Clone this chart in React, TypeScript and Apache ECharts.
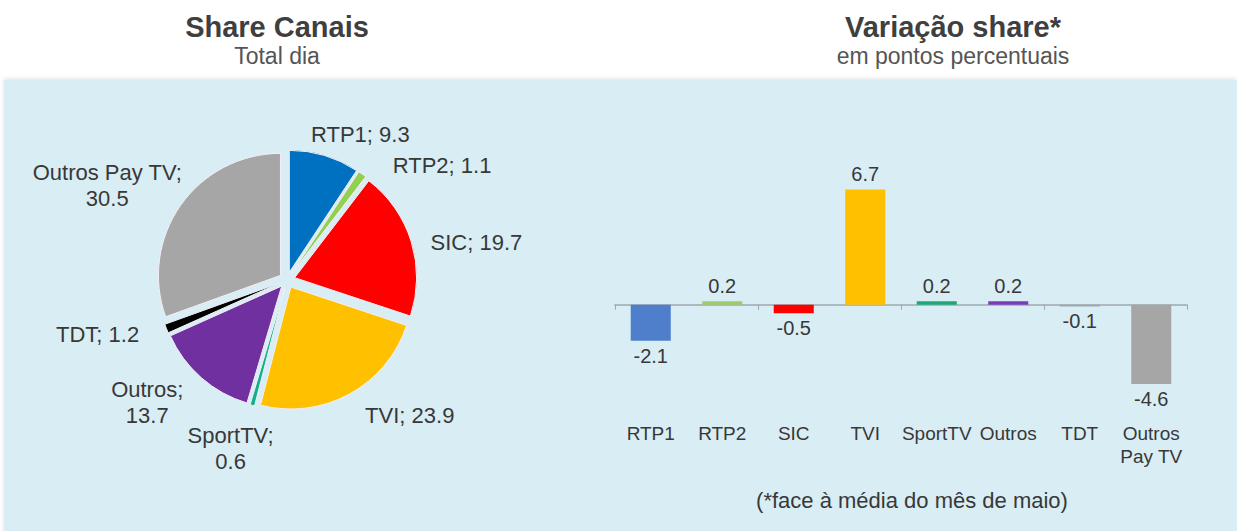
import React, { useEffect, useRef } from "react";
import * as echarts from "echarts";

// ---- data ----
const pieNames = ["RTP1", "RTP2", "SIC", "TVI", "SportTV", "Outros", "TDT", "Outros Pay TV"];
const pieValues = [9.3, 1.1, 19.7, 23.9, 0.6, 13.7, 1.2, 30.5];
const pieColors = ["#0070C0", "#92D050", "#FF0000", "#FFC000", "#10B08C", "#7030A0", "#000000", "#A6A6A6"];

const barCategories = ["RTP1", "RTP2", "SIC", "TVI", "SportTV", "Outros", "TDT", "Outros Pay TV"];
const barValues = [-2.1, 0.2, -0.5, 6.7, 0.2, 0.2, -0.1, -4.6];
const barColors = ["#4F7FCB", "#9CCB6C", "#FF0000", "#FFC000", "#1FA878", "#7A3DB8", "#9FA8AD", "#A6A6A6"];

const yMin = -6;
const yMax = 8;

// ---- layout constants (not data) ----
const PIE_CX = 287;
const PIE_CY = 280;
const PIE_R = 122;
const PIE_OFFSET = 8;
// label placement around the pie: distance of label centre from pie centre, and angular nudge (deg)
const LABEL_DIST = [163, 193, 193, 183, 178, 186, 197, 203];
const LABEL_NUDGE = [10, 18, 6, -13.5, 3, 7.5, 6, -7.4];
const FONT = "'Liberation Sans', Arial, sans-serif";
const TEXT = "#383838";

export default function App() {
  const ref = useRef<HTMLDivElement>(null);

  useEffect(() => {
    if (!ref.current) return;
    const chart = echarts.init(ref.current, undefined, { renderer: "svg" });

    const total = pieValues.reduce((a, b) => a + b, 0);
    let cum = 0;
    const midAngles = pieValues.map((v) => {
      const m = ((cum + v / 2) / total) * 360;
      cum += v;
      return m;
    });

    const pieLabels = pieNames.map((n, i) => {
      const a = ((midAngles[i] + LABEL_NUDGE[i]) * Math.PI) / 180;
      const d = LABEL_DIST[i];
      const v = pieValues[i].toFixed(1);
      const text = n.length > 4 ? `${n};\n${v}` : `${n}; ${v}`;
      return {
        type: "text",
        silent: true,
        z: 10,
        x: PIE_CX + d * Math.sin(a),
        y: PIE_CY - d * Math.cos(a),
        style: {
          text,
          align: "center",
          verticalAlign: "middle",
          fontSize: 22,
          lineHeight: 26,
          fontFamily: FONT,
          fill: TEXT,
        },
      };
    });

    const pieData = pieNames.map((n, i) => ({
      name: n,
      value: pieValues[i],
      selected: true,
      itemStyle: { color: pieColors[i] },
    }));

    const barData = barValues.map((v, i) => ({
      value: v,
      itemStyle: { color: barColors[i] },
      label: { position: v >= 0 ? "top" : "bottom" },
    }));

    const option: any = {
      animation: false,
      backgroundColor: "#ffffff",
      textStyle: { fontFamily: FONT },
      graphic: [
        {
          type: "rect",
          z: -10,
          silent: true,
          shape: { x: 4, y: 80, width: 1233, height: 460 },
          style: { fill: "#D8EDF4", shadowBlur: 4, shadowColor: "rgba(0,0,0,0.12)", shadowOffsetY: -1 },
        },
        ...pieLabels,
      ],
      title: [
        {
          text: "Share Canais",
          subtext: "Total dia",
          left: 272,
          top: 7,
          textAlign: "center",
          itemGap: 3,
          textStyle: { fontFamily: FONT, fontSize: 29, fontWeight: "bold", color: "#3F3F3F" },
          subtextStyle: { fontFamily: FONT, fontSize: 23, color: "#555555" },
        },
        {
          text: "Variação share*",
          subtext: "em pontos percentuais",
          left: 948,
          top: 7,
          textAlign: "center",
          itemGap: 3,
          textStyle: { fontFamily: FONT, fontSize: 29, fontWeight: "bold", color: "#3F3F3F" },
          subtextStyle: { fontFamily: FONT, fontSize: 23, color: "#555555" },
        },
        {
          text: "(*face à média do mês de maio)",
          left: 907,
          top: 484,
          textAlign: "center",
          textStyle: { fontFamily: FONT, fontSize: 22, fontWeight: "normal", color: TEXT },
        },
      ],
      grid: { left: 615, width: 572, top: 167, height: 241 },
      xAxis: [
        {
          type: "category",
          data: barCategories,
          position: "bottom",
          axisLine: { show: false, onZero: false },
          axisTick: { show: false },
          axisLabel: {
            interval: 0,
            margin: 14,
            fontSize: 19,
            lineHeight: 23,
            color: TEXT,
            fontFamily: FONT,
            formatter: (n: string) => (n.length > 8 && n.indexOf(" ") > 0 ? n.replace(" ", "\n") : n),
          },
        },
        {
          type: "category",
          data: barCategories,
          position: "top",
          axisLine: { show: true, onZero: true, lineStyle: { color: "#9FA8AD", width: 1.5 } },
          axisTick: { show: true, inside: true, length: 5, lineStyle: { color: "#9FA8AD" } },
          axisLabel: { show: false },
        },
      ],
      yAxis: { type: "value", min: yMin, max: yMax, show: false },
      series: [
        {
          type: "pie",
          center: [PIE_CX, PIE_CY],
          radius: PIE_R,
          startAngle: 90,
          clockwise: true,
          selectedMode: "multiple",
          selectedOffset: PIE_OFFSET,
          avoidLabelOverlap: false,
          itemStyle: { borderColor: "#F4EEF6", borderWidth: 1 },
          emphasis: { disabled: true },
          select: { itemStyle: { borderColor: "#F4EEF6", borderWidth: 1 } },
          data: pieData,
          label: { show: false },
          labelLine: { show: false },
        },
        {
          type: "bar",
          xAxisIndex: 0,
          yAxisIndex: 0,
          barWidth: "56%",
          data: barData,
          emphasis: { disabled: true },
          label: {
            show: true,
            distance: 5,
            fontSize: 20,
            color: TEXT,
            fontFamily: FONT,
            formatter: (p: any) => Number(p.value).toFixed(1),
          },
        },
      ],
    };

    chart.setOption(option);
    return () => chart.dispose();
  }, []);

  return (
    <div
      ref={ref}
      style={{ position: "fixed", left: 0, top: 0, width: 1237, height: 531 }}
    />
  );
}
